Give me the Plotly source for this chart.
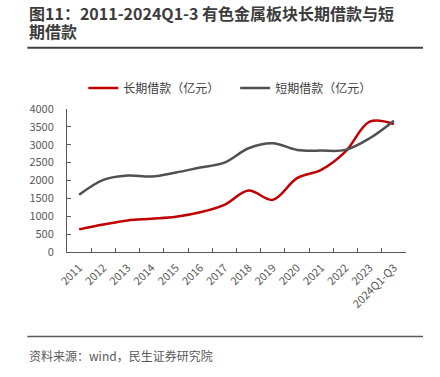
import plotly.graph_objects as go

categories = ["2011", "2012", "2013", "2014", "2015", "2016", "2017", "2018",
              "2019", "2020", "2021", "2022", "2023", "2024Q1-Q3"]
long_term = [633, 770, 884, 930, 985, 1110, 1320, 1720, 1460, 2065, 2298, 2809, 3647, 3581]
short_term = [1600, 2019, 2140, 2112, 2223, 2363, 2500, 2902, 3042, 2856, 2837, 2856, 3181, 3674]
y_ticks = [0, 500, 1000, 1500, 2000, 2500, 3000, 3500, 4000]

W, H = 440, 377
L, R, T, B = 66.7, 406.0, 109.0, 252.3
FONT = "Noto Sans CJK SC"

def px(x):
    return (x - L) / (R - L)

def py(y):
    return (B - y) / (B - T)

fig = go.Figure()
fig.add_trace(go.Scatter(x=categories, y=long_term, mode="lines", name="长期借款（亿元）",
                         legend="legend",
                         line=dict(color="#C00000", width=2.5, shape="spline", smoothing=1)))
fig.add_trace(go.Scatter(x=categories, y=short_term, mode="lines", name="短期借款（亿元）",
                         legend="legend2",
                         line=dict(color="#505050", width=2.5, shape="spline", smoothing=1)))

legend_style = dict(orientation="h", xanchor="left", y=py(88), yanchor="middle",
                    font=dict(size=12, color="#404040", family=FONT),
                    bgcolor="rgba(0,0,0,0)", borderwidth=0)

fig.update_layout(
    width=W, height=H,
    margin=dict(l=L, r=W - R, t=T, b=H - B, pad=0, autoexpand=False),
    paper_bgcolor="white", plot_bgcolor="white",
    font=dict(family=FONT, color="#595959", size=11),
    showlegend=True,
    legend=dict(x=px(83), **legend_style),
    legend2=dict(x=px(235), **legend_style),
    xaxis=dict(type="category", range=[-0.5, 13.5], showgrid=False, zeroline=False,
               showline=True, linecolor="#595959", linewidth=1, automargin=False,
               ticks="inside", ticklen=4, tickcolor="#595959", tickson="boundaries",
               tickangle=-45, tickfont=dict(size=11, color="#595959", family=FONT),
               ticklabelstandoff=4),
    yaxis=dict(range=[0, 4000], tickvals=y_ticks, showgrid=False, zeroline=False,
               showline=True, linecolor="#595959", linewidth=1, automargin=False,
               ticks="inside", ticklen=4, tickcolor="#595959",
               tickfont=dict(size=11, color="#595959", family=FONT),
               ticklabelstandoff=10),
)

fig.add_annotation(text="<b>图11：2011-2024Q1-3 有色金属板块长期借款与短</b>",
                   xref="paper", yref="paper", x=px(27), y=py(12.5), xanchor="left", yanchor="middle",
                   showarrow=False, font=dict(size=16, color="#3c3c3c", family=FONT))
fig.add_annotation(text="<b>期借款</b>",
                   xref="paper", yref="paper", x=px(27), y=py(31), xanchor="left", yanchor="middle",
                   showarrow=False, font=dict(size=16, color="#3c3c3c", family=FONT))
fig.add_annotation(text="资料来源：wind，民生证券研究院",
                   xref="paper", yref="paper", x=px(27), y=py(356), xanchor="left", yanchor="middle",
                   showarrow=False, font=dict(size=12, color="#595959", family=FONT))

fig.add_shape(type="rect", xref="paper", yref="paper", x0=px(27), x1=px(423), y0=py(48.5), y1=py(46.5),
              line=dict(width=0), fillcolor="#404040", layer="above")
fig.add_shape(type="rect", xref="paper", yref="paper", x0=px(27), x1=px(423), y0=py(337.75), y1=py(336.25),
              line=dict(width=0), fillcolor="#595959", layer="above")

fig.write_html("out.html", config={"displayModeBar": False},
               post_script="document.body.style.margin='0';document.body.style.overflow='hidden';")
